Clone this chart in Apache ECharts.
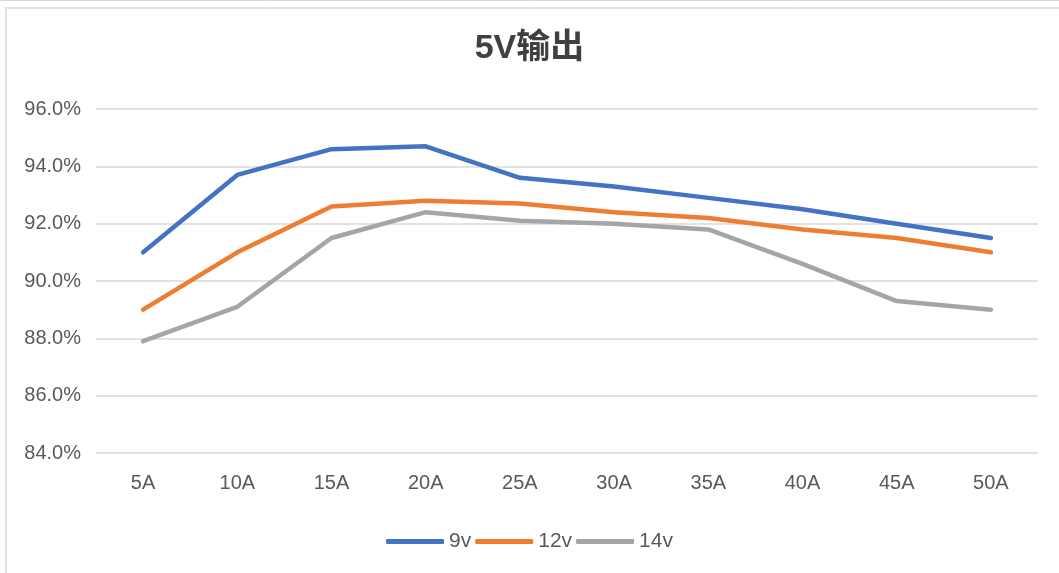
<!DOCTYPE html>
<html><head><meta charset="utf-8">
<script src="https://cdn.jsdelivr.net/npm/echarts@6/dist/echarts.min.js"></script>
<style>html,body{margin:0;padding:0;background:#fff}#c{width:1059px;height:573px}</style>
</head><body><div id="c"></div>
<script>
const categories = ['5A','10A','15A','20A','25A','30A','35A','40A','45A','50A'];
const v9  = [91.0, 93.7, 94.6, 94.7, 93.6, 93.3, 92.9, 92.5, 92.0, 91.5];
const v12 = [89.0, 91.0, 92.6, 92.8, 92.7, 92.4, 92.2, 91.8, 91.5, 91.0];
const v14 = [87.9, 89.1, 91.5, 92.4, 92.1, 92.0, 91.8, 90.6, 89.3, 89.0];
const seriesNames = ['9v','12v','14v'];
const colors = ['#4472C4','#ED7D31','#A5A5A5'];
const font = '"Liberation Sans", Arial, "Noto Sans CJK SC", sans-serif';
const chart = echarts.init(document.getElementById('c'));
const mk = (name, data, i) => ({
  name, type: 'line', data, symbol: 'none', smooth: false,
  lineStyle: { width: 4.5, color: colors[i], cap: 'round', join: 'round' },
  itemStyle: { color: colors[i] }
});
chart.setOption({
  animation: false,
  graphic: [
    { type: 'rect', shape: { x: 6, y: 8, width: 1100, height: 600 }, style: { fill: 'none', stroke: '#d9d9d9', lineWidth: 1.5 } },
    { type: 'line', shape: { x1: 0, y1: 0.5, x2: 1059, y2: 0.5 }, style: { stroke: '#d9d9d9', lineWidth: 1 } }
  ],
  title: { text: '5V输出', left: 'center', top: 27, textStyle: { fontFamily: font, fontSize: 34, fontWeight: 'bold', color: '#404040' } },
  legend: {
    data: seriesNames, bottom: 16, left: 'center', itemWidth: 58, itemHeight: 5, itemGap: 4,
    icon: 'roundRect',
    textStyle: { fontFamily: font, fontSize: 21, color: '#595959' }
  },
  grid: { left: 96, right: 21, top: 109, bottom: 120, containLabel: false },
  xAxis: {
    type: 'category', data: categories, boundaryGap: true,
    axisLine: { show: false }, axisTick: { show: false },
    axisLabel: { fontFamily: font, fontSize: 20, color: '#595959', margin: 20 }
  },
  yAxis: {
    type: 'value', min: 84, max: 96, interval: 2,
    axisLine: { show: false }, axisTick: { show: false },
    splitLine: { lineStyle: { color: '#d9d9d9', width: 1.5 } },
    axisLabel: { fontFamily: font, fontSize: 20, color: '#595959', margin: 15, formatter: v => v.toFixed(1) + '%' }
  },
  series: [mk(seriesNames[0], v9, 0), mk(seriesNames[1], v12, 1), mk(seriesNames[2], v14, 2)]
});
</script></body></html>
